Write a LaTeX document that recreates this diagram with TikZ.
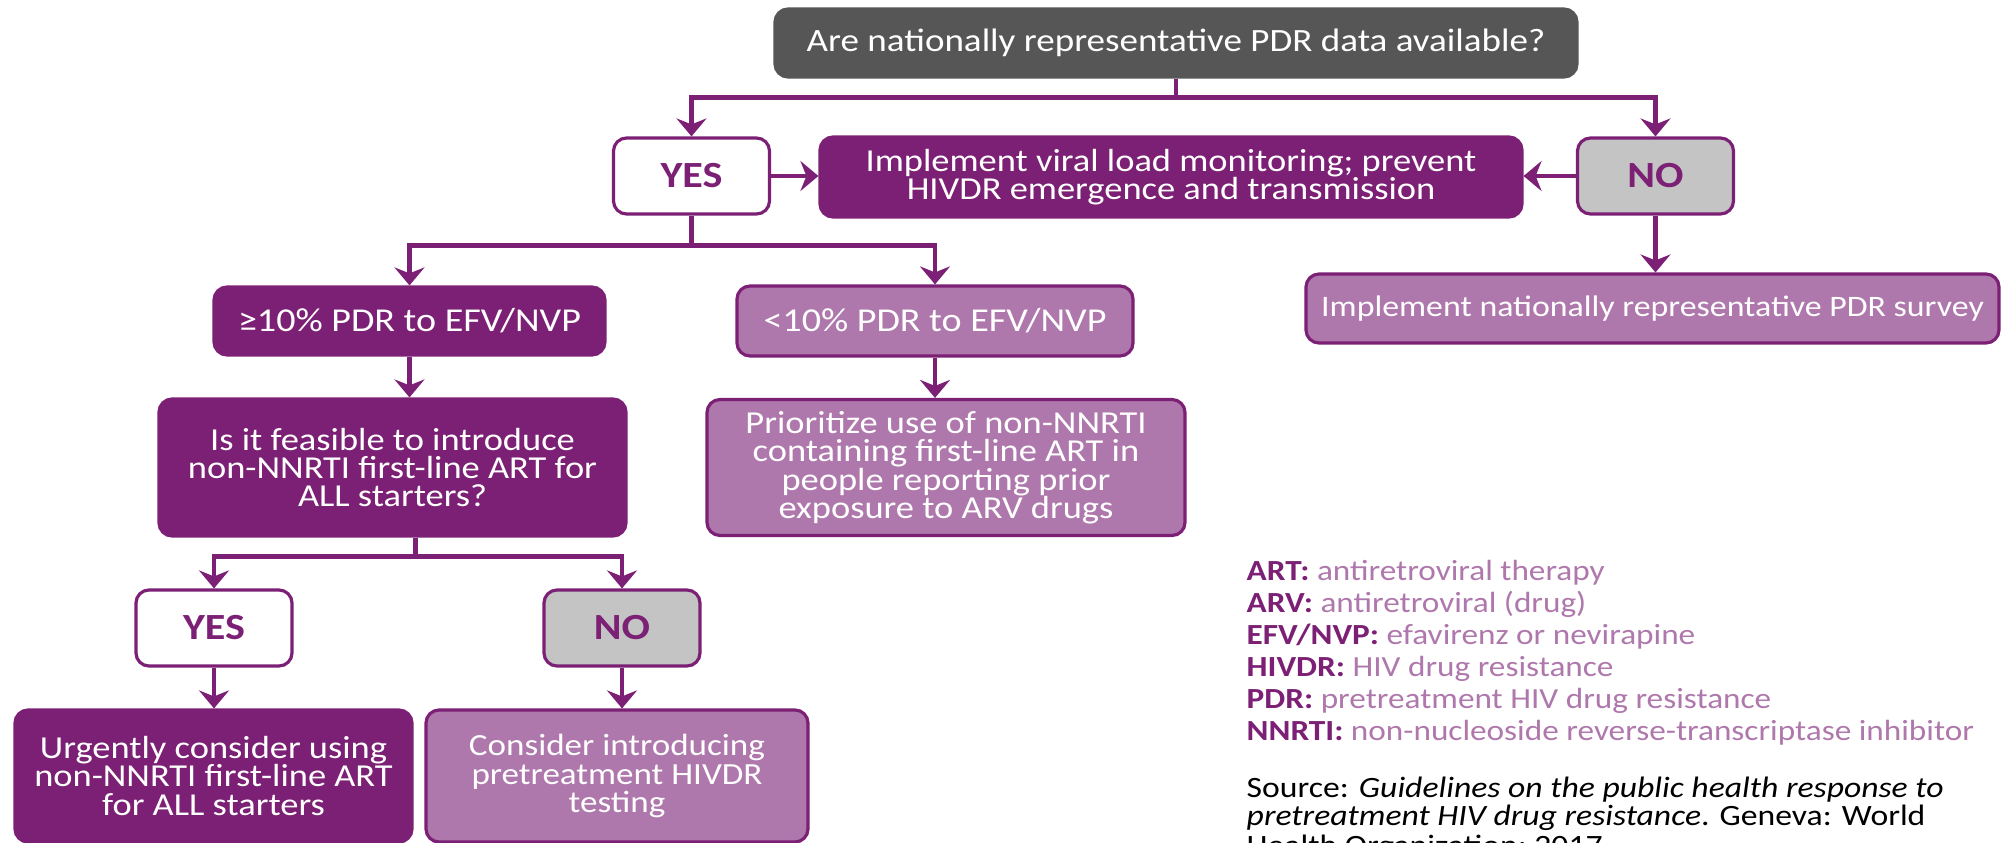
\documentclass[tikz,border=0pt]{standalone}
\usepackage{fontspec}
\setmainfont{Carlito}[FakeStretch=1.14]
\usetikzlibrary{arrows.meta, positioning}
\usepackage{xcolor}
\definecolor{pdrPurple}{HTML}{7B2074}
\definecolor{pdrLilac}{HTML}{AF78AC}
\definecolor{pdrDark}{HTML}{565656}
\definecolor{pdrGrey}{HTML}{C4C4C4}

\begin{document}
\begin{tikzpicture}[
font=\fontsize{9.1}{8.1}\selectfont,
box/.style={draw=pdrPurple,
rectangle,
rounded corners=1.3mm,
line width=0.9pt,
inner sep=0pt,
align=center},
darkbox/.style={box, fill=pdrPurple, text=white},
lightbox/.style={box, fill=pdrLilac, text=white},
yesbox/.style={box, fill=white, text=pdrPurple, font=\fontsize{10.5}{9}\selectfont\bfseries,
minimum width=1.56cm, minimum height=0.76cm},
nobox/.style={box, fill=pdrGrey, text=pdrPurple, font=\fontsize{10.5}{9}\selectfont\bfseries,
minimum width=1.56cm, minimum height=0.76cm},
arrow/.style={-{Stealth[length=1.8mm, width=3mm, inset=0.6mm]}, line width=1.3pt, draw=pdrPurple},
legend/.style={align=left, inner sep=0pt, text=pdrLilac, font=\fontsize{8.3}{9.1}\selectfont},
source/.style={align=left, inner sep=0pt, text=black, font=\fontsize{8.4}{7}\selectfont}
]

\useasboundingbox (0,0) rectangle (20.05,-8.43);

\node[box, draw=pdrDark, fill=pdrDark, text=white, font=\fontsize{9.25}{8.1}\selectfont, minimum width=8.02cm, minimum height=0.68cm] (avail) at (11.76,-0.43) {Are nationally representative PDR data available?};

\node[yesbox] (yes1) at (6.915,-1.76) {YES};
\node[darkbox, minimum width=7.02cm, minimum height=0.8cm] (vlm) at (11.71,-1.77) {Implement viral load monitoring; prevent\\HIVDR emergence and transmission};
\node[nobox] (no1) at (16.555,-1.76) {NO};
\node[lightbox, font=\fontsize{8.45}{8}\selectfont, minimum width=6.93cm, minimum height=0.69cm] (survey) at (16.525,-3.085) {Implement nationally representative PDR survey};

\node[darkbox, font=\fontsize{9.5}{8.1}\selectfont, minimum width=3.91cm, minimum height=0.68cm] (high) at (4.095,-3.21) {≥10\% PDR to EFV/NVP};
\node[lightbox, font=\fontsize{9.5}{8.1}\selectfont, minimum width=3.96cm, minimum height=0.70cm] (low) at (9.35,-3.21) {<10\% PDR to EFV/NVP};
\node[darkbox, minimum width=4.67cm, minimum height=1.37cm] (feasible) at (3.925,-4.675) {Is it feasible to introduce\\non-NNRTI first-line ART for\\ALL starters?};
\node[lightbox, minimum width=4.78cm, minimum height=1.36cm] (prior) at (9.46,-4.675) {Prioritize use of non-NNRTI\\containing first-line ART in\\people reporting prior\\exposure to ARV drugs};

\node[yesbox] (yes2) at (2.14,-6.28) {YES};
\node[nobox] (no2) at (6.22,-6.28) {NO};
\node[darkbox, minimum width=3.97cm, minimum height=1.32cm] (urgent) at (2.135,-7.76) {Urgently consider using\\non-NNRTI first-line ART\\for ALL starters};
\node[lightbox, font=\fontsize{8.75}{8.1}\selectfont, minimum width=3.82cm, minimum height=1.32cm] (testing) at (6.17,-7.76) {Consider introducing\\pretreatment HIVDR\\testing};

\node[legend, anchor=north west] (abbrev) at (12.46,-5.60) {%
\textcolor{pdrPurple}{\bfseries ART:} antiretroviral therapy\\
\textcolor{pdrPurple}{\bfseries ARV:} antiretroviral (drug)\\
\textcolor{pdrPurple}{\bfseries EFV/NVP:} efavirenz or nevirapine\\
\textcolor{pdrPurple}{\bfseries HIVDR:} HIV drug resistance\\
\textcolor{pdrPurple}{\bfseries PDR:} pretreatment HIV drug resistance\\
\textcolor{pdrPurple}{\bfseries NNRTI:} non-nucleoside reverse-transcriptase inhibitor};
\node[source, anchor=north west] (src) at (12.46,-7.76) {Source: \textit{Guidelines on the public health response to}\\
\textit{pretreatment HIV drug resistance}. Geneva: World\\
Health Organization; 2017};

\draw[arrow] (avail.south) -- ++(0,-0.19) -| (yes1.north);
\draw[arrow] (avail.south) -- ++(0,-0.19) -| (no1.north);
\draw[arrow] (yes1.east) -- (yes1.east -| vlm.west);
\draw[arrow] (no1.west) -- (no1.west -| vlm.east);
\draw[arrow] (no1.south) -- (no1.south |- survey.north);
\draw[arrow] (yes1.south) -- ++(0,-0.3) -| (high.north);
\draw[arrow] (yes1.south) -- ++(0,-0.3) -| (low.north);
\draw[arrow] (high.south) -- (high.south |- feasible.north);
\draw[arrow] (low.south) -- (low.south |- prior.north);
\draw[arrow] ([xshift=0.23cm]feasible.south) -- ++(0,-0.19) -| (yes2.north);
\draw[arrow] ([xshift=0.23cm]feasible.south) -- ++(0,-0.19) -| (no2.north);
\draw[arrow] (yes2.south) -- (yes2.south |- urgent.north);
\draw[arrow] (no2.south) -- (no2.south |- testing.north);

\end{tikzpicture}
\end{document}
